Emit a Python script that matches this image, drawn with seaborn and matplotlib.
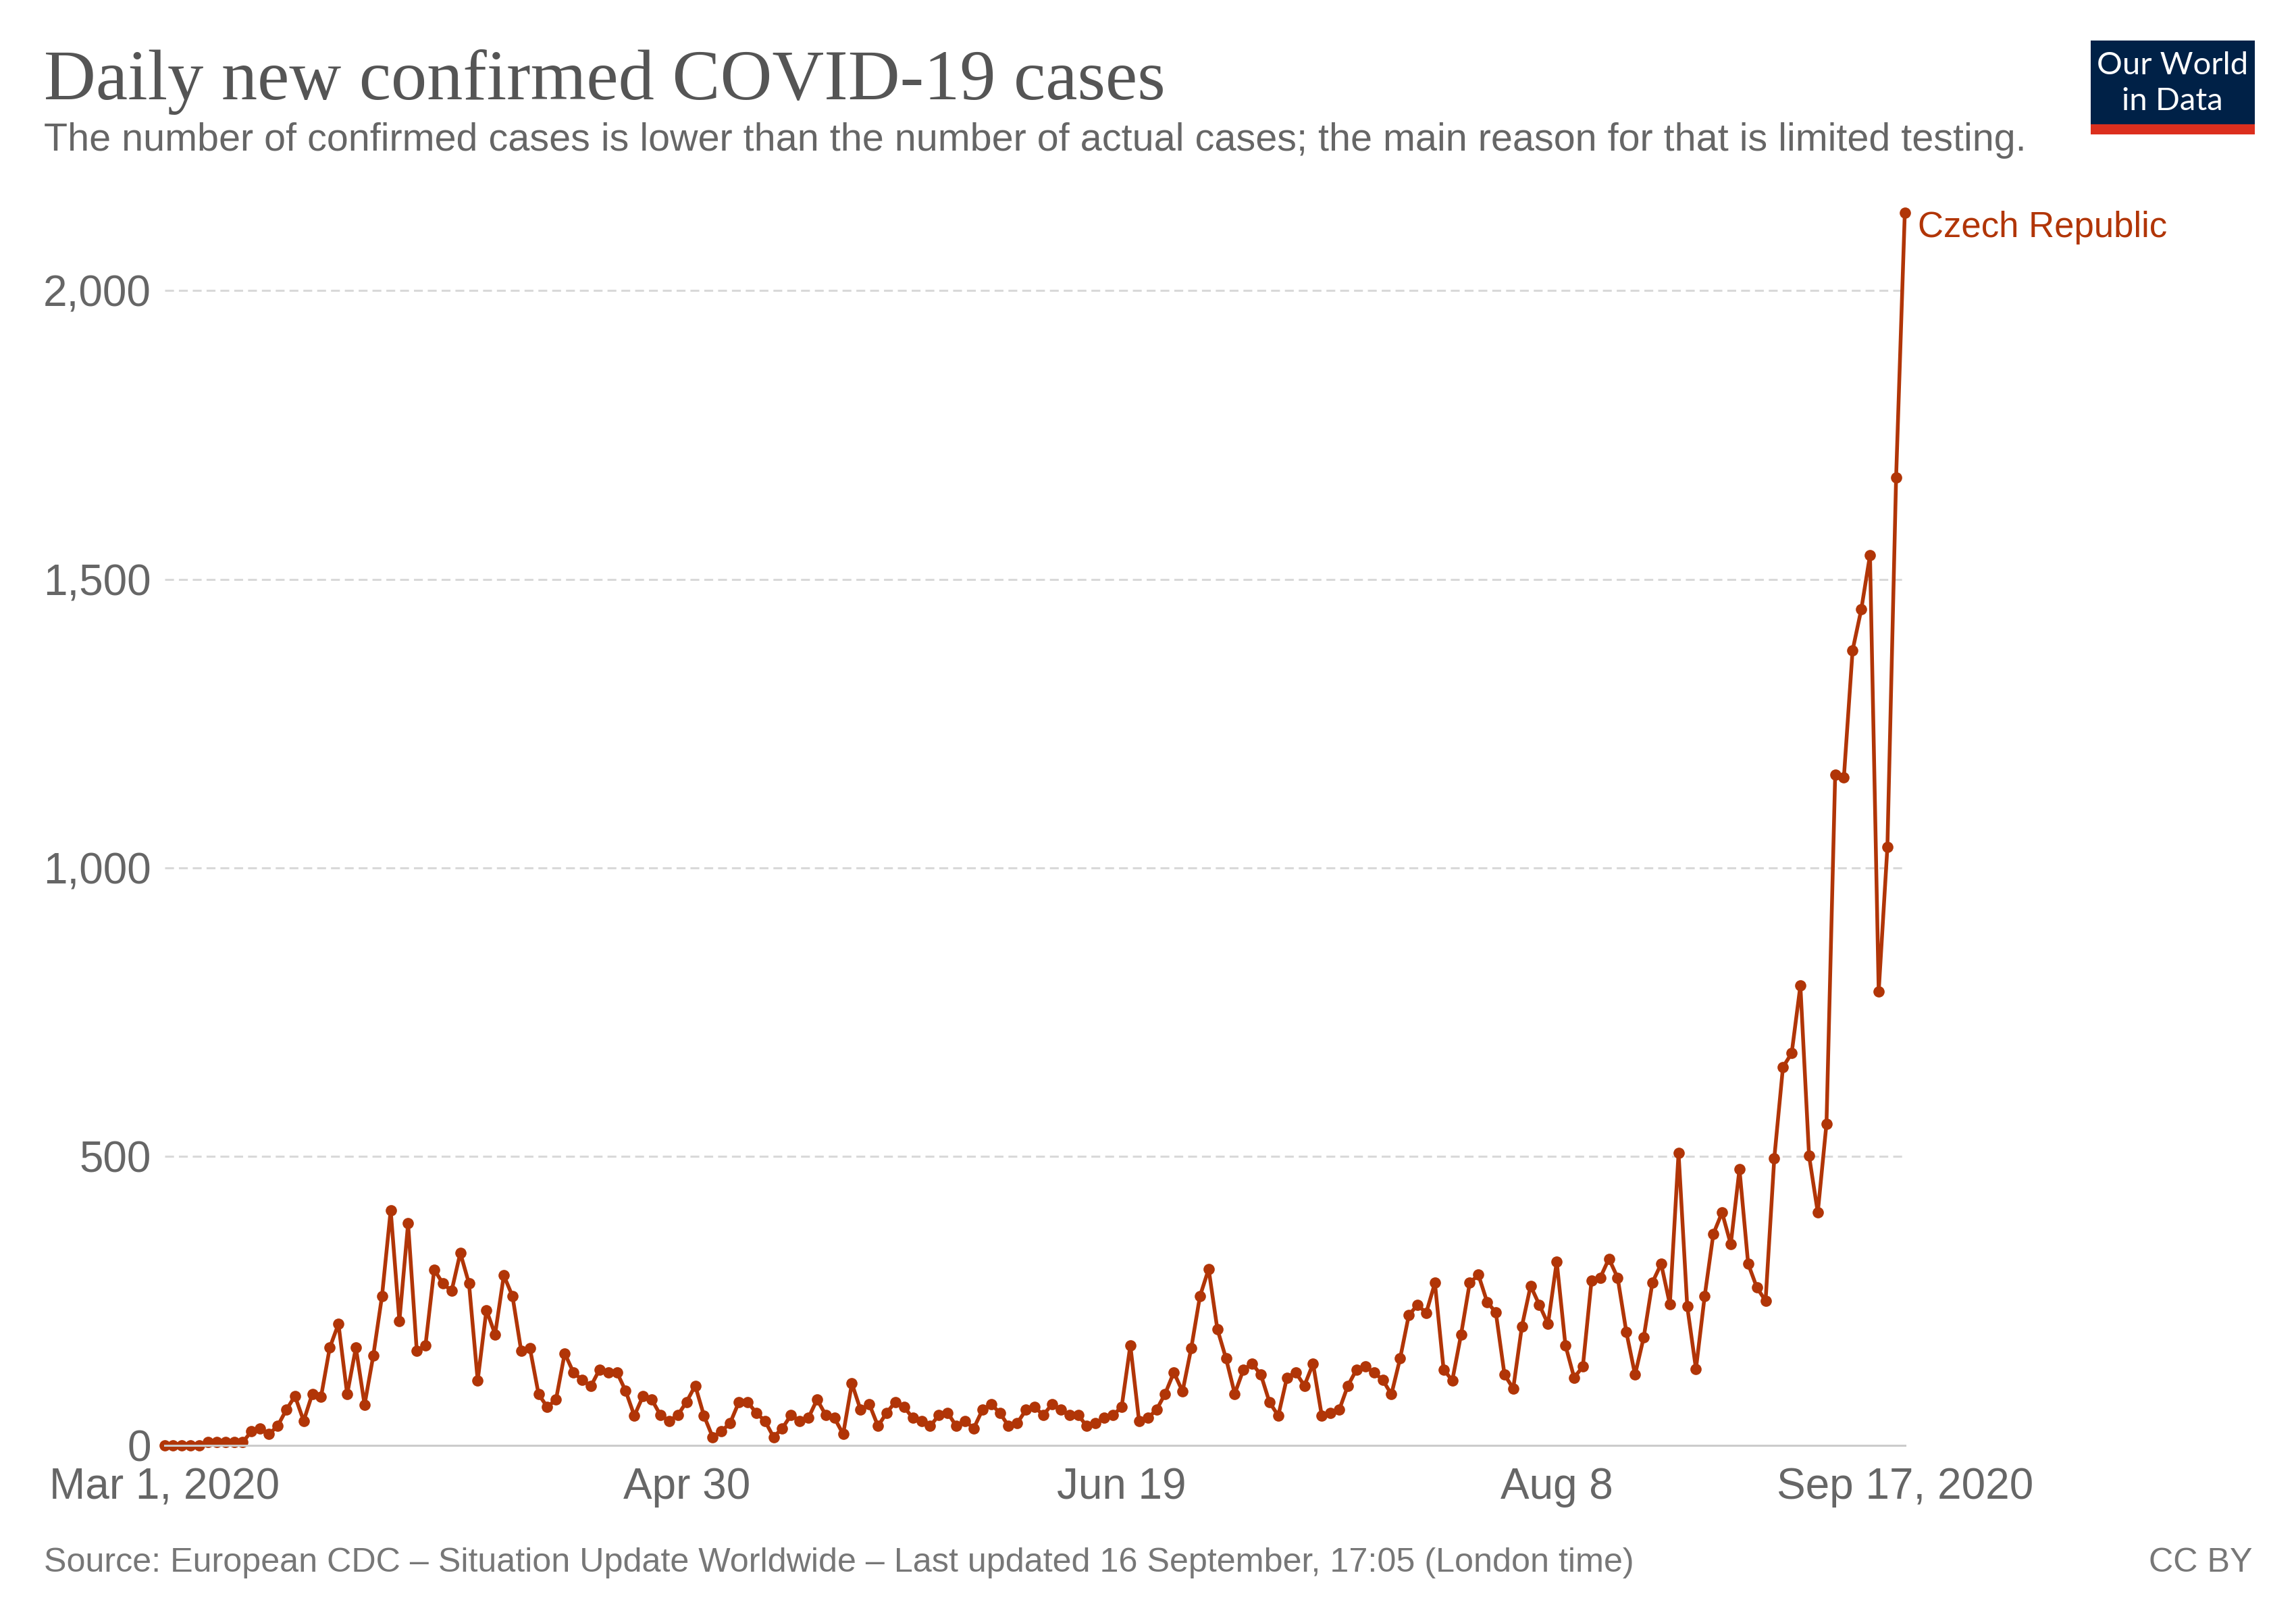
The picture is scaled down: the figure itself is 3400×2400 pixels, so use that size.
import numpy as np
import pandas as pd
import matplotlib.pyplot as plt
import matplotlib.dates as mdates
from matplotlib.patches import Rectangle
from matplotlib.ticker import FuncFormatter
import seaborn as sns

# ================= DATA =================
START_DATE = "2020-03-01"
COUNTRY = "Czech Republic"

daily_cases = [
    0, 0, 0, 0, 0, 5, 5, 5, 5, 5,
    24, 29, 19, 33, 61, 85, 42, 89, 84, 169,
    210, 88, 169, 70, 155, 258, 407, 215, 384, 163,
    173, 304, 280, 267, 333, 280, 112, 234, 192, 294,
    258, 163, 168, 88, 66, 79, 159, 126, 113, 102,
    131, 126, 126, 94, 51, 85, 79, 52, 42, 52,
    75, 103, 51, 14, 24, 38, 74, 75, 56, 42,
    14, 29, 52, 42, 47, 79, 52, 47, 19, 107,
    61, 71, 33, 56, 75, 66, 47, 42, 33, 52,
    56, 33, 42, 29, 61, 71, 56, 33, 38, 61,
    66, 52, 71, 61, 52, 52, 33, 38, 47, 52,
    66, 173, 42, 47, 61, 89, 126, 93, 168, 258,
    305, 201, 150, 89, 131, 141, 122, 74, 51, 117,
    126, 103, 141, 51, 56, 61, 103, 131, 136, 126,
    113, 88, 150, 225, 243, 229, 281, 131, 112, 191,
    281, 295, 248, 230, 122, 98, 206, 276, 243, 210,
    318, 173, 117, 136, 285, 290, 323, 290, 196, 122,
    187, 282, 314, 244, 506, 240, 132, 258, 366, 403,
    348, 478, 314, 273, 250, 497, 655, 679, 796, 501,
    403, 557, 1162, 1157, 1377, 1448, 1542, 786, 1036, 1676,
    2135,
]

x_tick_dates = ["2020-03-01", "2020-04-30", "2020-06-19", "2020-08-08", "2020-09-17"]
x_tick_labels = ["Mar 1, 2020", "Apr 30", "Jun 19", "Aug 8", "Sep 17, 2020"]
y_ticks = [0, 500, 1000, 1500, 2000]

df = pd.DataFrame({
    "date": pd.date_range(START_DATE, periods=len(daily_cases), freq="D"),
    "cases": daily_cases,
})

# ================= STYLE =================
LINE_COLOR = "#b13507"
sns.set_style("white")
plt.rcParams["font.family"] = ["Liberation Sans", "DejaVu Sans"]

fig = plt.figure(figsize=(17, 12), dpi=200)
ax = fig.add_axes([243.5 / 3400, 0.1085, (2820.7 - 243.5) / 3400, 2200 * 0.8546 / 2400])

sns.lineplot(data=df, x="date", y="cases", ax=ax, color=LINE_COLOR,
             linewidth=2.0, marker="o", markersize=6, markeredgewidth=0,
             clip_on=False)

ax.set_xlim(df["date"].iloc[0], df["date"].iloc[-1])
ax.set_ylim(0, 2200)

# grid + axes
ax.set_yticks(y_ticks)
ax.yaxis.set_major_formatter(FuncFormatter(lambda v, p: f"{int(v):,}"))
for v in y_ticks[1:]:
    ax.axhline(v, color="#d9d9d9", lw=1.1, linestyle=(0, (4.3, 2.4)), zorder=0)

ax.set_xticks(pd.to_datetime(x_tick_dates))
ax.set_xticklabels(x_tick_labels)
ax.tick_params(axis="x", length=5.8, width=1.1, color="#cccccc", pad=6,
               labelsize=23, labelcolor="#666666")
ax.tick_params(axis="y", length=0, pad=7, labelsize=23, labelcolor="#666666")

for side in ["top", "right", "left"]:
    ax.spines[side].set_visible(False)
ax.spines["bottom"].set_color("#cccccc")
ax.spines["bottom"].set_linewidth(1.1)
ax.set_xlabel("")
ax.set_ylabel("")

# series label
ax.annotate(COUNTRY, xy=(df["date"].iloc[-1], daily_cases[-1]), xytext=(7, -8),
            textcoords="offset points", color=LINE_COLOR, fontsize=19,
            va="center", ha="left", annotation_clip=False)

# ================= TEXT =================
fig.text(65 / 3400, 1 - 147 / 2400, "Daily new confirmed COVID-19 cases",
         family=["Liberation Serif", "DejaVu Serif"], fontsize=38.3,
         color="#555555", va="baseline", ha="left")
fig.text(65 / 3400, 1 - 223 / 2400,
         "The number of confirmed cases is lower than the number of actual cases; "
         "the main reason for that is limited testing.",
         fontsize=20.7, color="#666666", va="baseline", ha="left")
fig.text(65 / 3400, 1 - 2327 / 2400,
         "Source: European CDC – Situation Update Worldwide – Last updated "
         "16 September, 17:05 (London time)",
         fontsize=18.1, color="#777777", va="baseline", ha="left")
fig.text(3335 / 3400, 1 - 2327 / 2400, "CC BY",
         fontsize=18.1, color="#777777", va="baseline", ha="right")

# logo
fig.add_artist(Rectangle((3096 / 3400, 1 - 184 / 2400), 243 / 3400, 124 / 2400,
                         transform=fig.transFigure, color="#002147", lw=0))
fig.add_artist(Rectangle((3096 / 3400, 1 - 199 / 2400), 243 / 3400, 15 / 2400,
                         transform=fig.transFigure, color="#dc2f1e", lw=0))
fig.text(3217 / 3400, 1 - 97 / 2400, "Our World", family="Lato", fontsize=17,
         color="white", ha="center", va="center")
fig.text(3217 / 3400, 1 - 150 / 2400, "in Data", family="Lato", fontsize=17,
         color="white", ha="center", va="center")

plt.savefig("out.png", dpi=200)
